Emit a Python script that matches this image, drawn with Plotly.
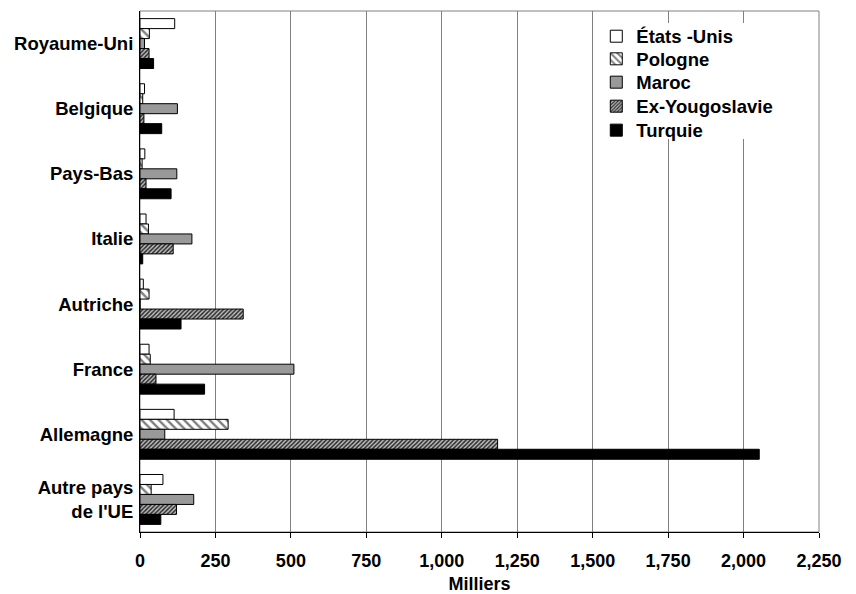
import plotly.graph_objects as go

categories = ["Royaume-Uni", "Belgique", "Pays-Bas", "Italie", "Autriche",
              "France", "Allemagne", "Autre pays<br>de l'UE"]

etats_unis = [115, 15, 16, 20, 11, 30, 113, 76]
pologne = [31, 9, 7, 28, 30, 34, 292, 37]
maroc = [15, 124, 122, 172, 0, 510, 82, 178]
ex_yougoslavie = [30, 13, 20, 110, 342, 53, 1185, 121]
turquie = [45, 72, 103, 9, 136, 214, 2052, 69]

x_ticks = [0, 250, 500, 750, 1000, 1250, 1500, 1750, 2000, 2250]

FONT = "Liberation Sans, Arial, sans-serif"

series = [
    ("États -Unis", etats_unis, dict(color="white")),
    ("Pologne", pologne, dict(color="white",
                              pattern=dict(shape="\\", size=6, solidity=0.4,
                                           fgcolor="black", bgcolor="white", fillmode="overlay"))),
    ("Maroc", maroc, dict(color="#999999")),
    ("Ex-Yougoslavie", ex_yougoslavie, dict(color="white",
                                            pattern=dict(shape="/", size=3, solidity=0.5,
                                                         fgcolor="#2a2a2a", bgcolor="#c0c0c0", fillmode="replace"))),
    ("Turquie", turquie, dict(color="black")),
]

legend_names = ["legend", "legend2", "legend3", "legend4", "legend5"]
legend_rows = [0.9507, 0.9073, 0.8625, 0.8164, 0.7704]

fig = go.Figure()
for (name, vals, mk), lg in zip(series, legend_names):
    mk = dict(mk)
    mk["line"] = dict(color="black", width=1)
    fig.add_trace(go.Bar(
        y=categories, x=vals, name=name, orientation="h", marker=mk,
        legend=lg, showlegend=True,
    ))

legend_layout = {}
for lg, yy in zip(legend_names, legend_rows):
    legend_layout[lg] = dict(x=0.672, y=yy, xanchor="left", yanchor="middle",
                             bgcolor="rgba(0,0,0,0)", borderwidth=0,
                             font=dict(family=FONT, size=18.5, color="black", weight="bold"))

fig.update_layout(
    width=848, height=586,
    margin=dict(l=132, r=37, t=3, b=62, autoexpand=False),
    paper_bgcolor="white", plot_bgcolor="white",
    showlegend=True,
    barmode="group", bargap=0.234, bargroupgap=0,
    font=dict(family=FONT, size=18, color="black", weight="bold"),
    shapes=[
        dict(type="rect", xref="paper", yref="paper", x0=0, y0=0, x1=1, y1=1,
             line=dict(color="#808080", width=1), layer="below"),
        dict(type="rect", xref="paper", yref="paper", x0=0.6735, x1=0.978,
             y0=0.7543, y1=0.977, fillcolor="white", line=dict(width=0), layer="above"),
    ],
    **legend_layout,
)

fig.update_xaxes(
    range=[0, 2250], tickvals=x_ticks, tickformat=",d",
    showgrid=True, gridcolor="#808080", gridwidth=1,
    showline=True, linecolor="black", linewidth=1,
    ticks="outside", ticklen=5, tickcolor="black",
    zeroline=False, automargin=False, ticklabelstandoff=7,
    title=dict(text="Milliers", standoff=10,
               font=dict(family=FONT, size=18, color="black", weight="bold")),
    tickfont=dict(family=FONT, size=18, color="black", weight="bold"),
)
fig.update_yaxes(
    type="category", categoryorder="array", categoryarray=categories,
    autorange="reversed", automargin=False,
    showgrid=False, showline=True, linecolor="black", linewidth=1,
    ticks="", ticklabelstandoff=2,
    tickfont=dict(family=FONT, size=18.5, color="black", weight="bold"),
)

fig.write_html("out.html")
